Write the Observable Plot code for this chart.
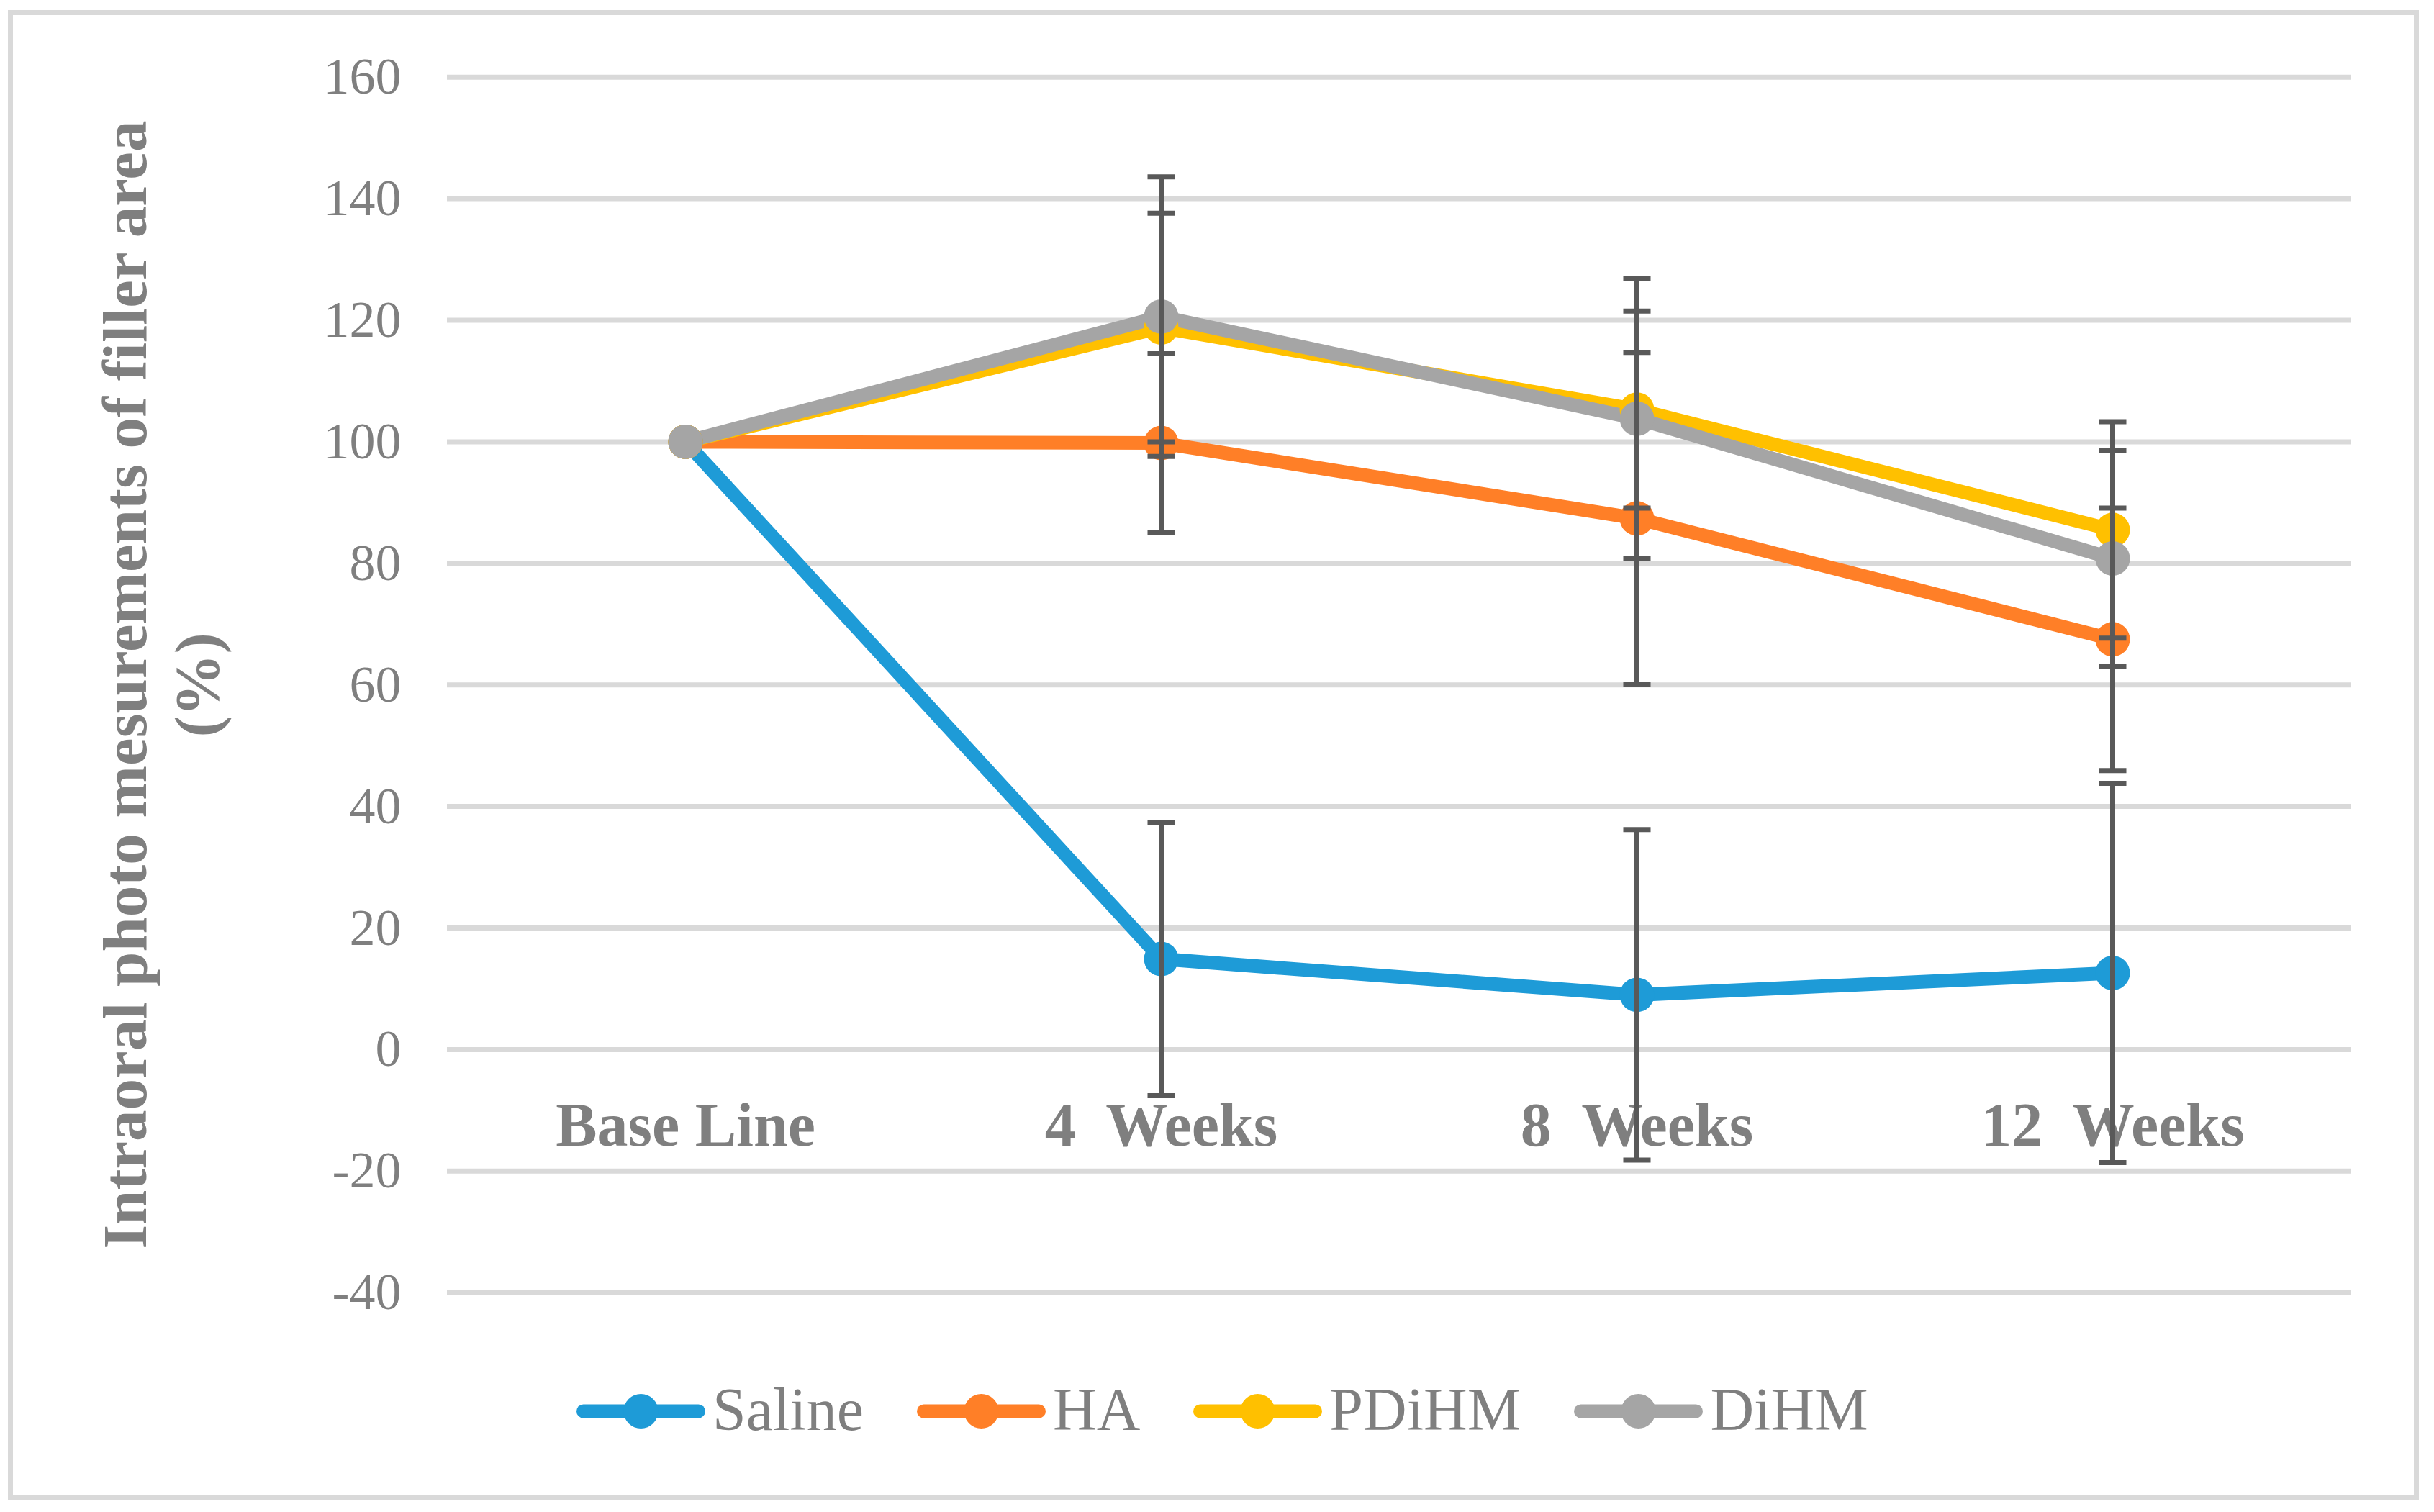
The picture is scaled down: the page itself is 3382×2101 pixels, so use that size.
<!DOCTYPE html>
<html>
<head>
<meta charset="utf-8">
<script src="https://cdn.jsdelivr.net/npm/d3@7"></script>
<script src="https://cdn.jsdelivr.net/npm/@observablehq/plot@0.6"></script>
<style>
  html, body { margin: 0; padding: 0; background: #ffffff; overflow: hidden; }
  #page { position: relative; width: 3382px; height: 2101px; }
  #frame { position: absolute; left: 11px; top: 14px; width: 3350px; height: 2070px;
           box-sizing: border-box; border: 7px solid #D9D9D9; }
  #chart { position: absolute; left: 0; top: 0; }
  #chart svg text { white-space: pre; }
  #legend { position: absolute; left: 801px; top: 1937px; height: 48px; display: flex; align-items: center; gap: 74px;
            font-family: "Liberation Serif", "Times New Roman", serif; font-size: 84px; color: #7F7F7F; }
  .item { display: flex; align-items: center; }
  .item span { margin-left: 10px; line-height: 1; position: relative; top: -2px; }
</style>
</head>
<body>
<div id="page">
  <div id="frame"></div>
  <div id="chart"></div>
  <div id="legend"></div>
</div>
<script>
// ---- data ----
const categories = ["Base Line", "4  Weeks", "8  Weeks", "12  Weeks"];
const seriesNames = ["Saline", "HA", "PDiHM", "DiHM"];
const seriesColors = ["#1E9BD7", "#FF7F27", "#FFC000", "#A5A5A5"];

const salineMean = [100, 14.9, 9.0, 12.6];
const salineSD   = [0, 22.5, 27.2, 31.2];
const haMean     = [100, 99.8, 87.4, 67.5];
const haSD       = [0, 14.7, 27.3, 21.6];
const pdihmMean  = [100, 118.8, 105.3, 85.5];
const pdihmSD    = [0, 18.8, 16.2, 17.8];
const dihmMean   = [100, 120.6, 103.8, 80.8];
const dihmSD     = [0, 23.0, 23.0, 17.7];

const yTicks = [-40, -20, 0, 20, 40, 60, 80, 100, 120, 140, 160];
const yTitle = "Intraoral photo mesurements of filler area\n(%)";

// ---- build table ----
const means = [salineMean, haMean, pdihmMean, dihmMean];
const sds = [salineSD, haSD, pdihmSD, dihmSD];
const rows = [];
seriesNames.forEach((s, i) => {
  categories.forEach((c, j) => {
    rows.push({series: s, cat: c, mean: means[i][j], sd: sds[i][j]});
  });
});
const errRows = rows.filter(d => d.sd > 0);
const capRows = errRows.flatMap(d => [
  {cat: d.cat, v: d.mean - d.sd},
  {cat: d.cat, v: d.mean + d.sd}
]);

const capSymbol = {
  draw(context, size) {
    const w = Math.sqrt(size / Math.PI);
    context.moveTo(-w, 0);
    context.lineTo(w, 0);
  }
};

const textColor = "#7F7F7F";
const serif = "'Liberation Serif', 'Times New Roman', serif";

const chart = Plot.plot({
  width: 3382,
  height: 1880,
  marginTop: 106.7,
  marginBottom: 84.3,
  marginLeft: 621,
  marginRight: 116,
  style: {background: "transparent", fontFamily: serif, color: textColor},
  x: {type: "point", domain: categories, padding: 0.5, axis: null},
  y: {domain: [-40, 160], axis: null},
  color: {domain: seriesNames, range: seriesColors},
  marks: [
    Plot.ruleY(yTicks, {stroke: "#D9D9D9", strokeWidth: 7}),
    Plot.axisY({ticks: yTicks, tickSize: 0, tickPadding: 64, fontSize: 72,
                tickFormat: d => String(d), fill: textColor, label: null}),
    Plot.text(categories, {x: d => d, y: () => 0, text: d => d, dy: 73, lineAnchor: "top",
                           fontSize: 86, fontWeight: "bold", fill: textColor}),
    Plot.text([yTitle], {frameAnchor: "left", rotate: -90, dx: -401, text: d => d,
                         fontSize: 87, fontWeight: "bold", lineHeight: 1.15,
                         textAnchor: "middle", fill: textColor}),
    Plot.line(rows, {x: "cat", y: "mean", z: "series", stroke: "series", strokeWidth: 19,
                     strokeLinejoin: "round", strokeLinecap: "round"}),
    Plot.dot(rows, {x: "cat", y: "mean", fill: "series", r: 24}),
    Plot.ruleX(errRows, {x: "cat", y1: d => d.mean - d.sd, y2: d => d.mean + d.sd,
                         stroke: "#595959", strokeWidth: 7}),
    Plot.dot(capRows, {x: "cat", y: "v", symbol: capSymbol, r: 19, fill: "none",
                       stroke: "#595959", strokeWidth: 7})
  ]
});
document.getElementById("chart").appendChild(chart);

// ---- legend ----
const legend = document.getElementById("legend");
seriesNames.forEach((s, i) => {
  const item = document.createElement("div");
  item.className = "item";
  const col = seriesColors[i];
  item.innerHTML =
    `<svg width="179" height="48" viewBox="0 0 179 48">
       <line x1="9.5" y1="24" x2="169.5" y2="24" stroke="${col}" stroke-width="19" stroke-linecap="round"/>
       <circle cx="89.5" cy="24" r="24" fill="${col}"/>
     </svg><span>${s}</span>`;
  legend.appendChild(item);
});
</script>
</body>
</html>
